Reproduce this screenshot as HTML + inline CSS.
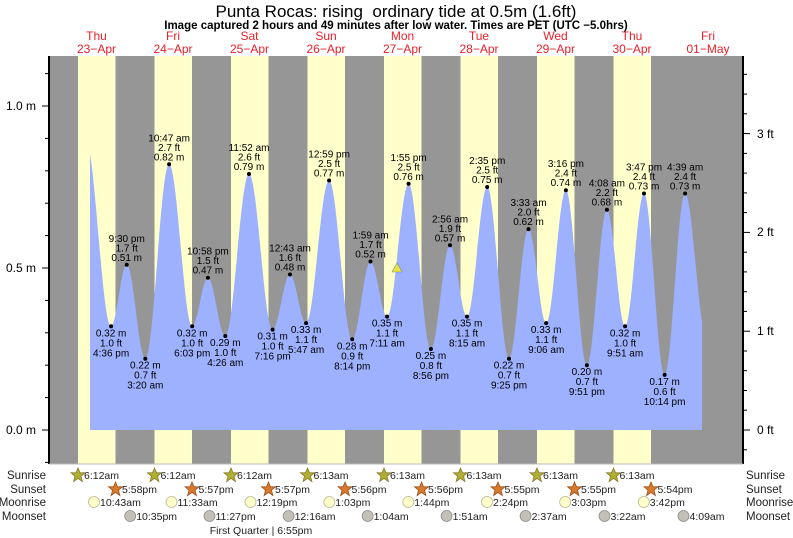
<!DOCTYPE html>
<html><head><meta charset="utf-8">
<style>
html,body{margin:0;padding:0;background:#fff;}
svg{display:block;font-family:"Liberation Sans",sans-serif;}
.lb text{font-size:10px;fill:#000;text-anchor:middle;}
.ax{font-size:12px;fill:#000;}
.rw{font-size:11.5px;fill:#222;}
.sm{font-size:10.5px;fill:#222;}
</style></head><body>
<svg width="793" height="538" viewBox="0 0 793 538" xmlns="http://www.w3.org/2000/svg">
<text x="396" y="17" font-size="17" text-anchor="middle" fill="#000">Punta Rocas: rising &#160;ordinary tide at 0.5m (1.6ft)</text>
<text x="396" y="29" font-size="11.5" font-weight="bold" text-anchor="middle" fill="#000">Image captured 2 hours and 49 minutes after low water. Times are PET (UTC −5.0hrs)</text>
<g font-size="12" fill="#e8202a" text-anchor="middle">
<text x="96.5" y="40">Thu</text><text x="96.5" y="53">23−Apr</text>
<text x="173" y="40">Fri</text><text x="173" y="53">24−Apr</text>
<text x="249.5" y="40">Sat</text><text x="249.5" y="53">25−Apr</text>
<text x="326" y="40">Sun</text><text x="326" y="53">26−Apr</text>
<text x="402.5" y="40">Mon</text><text x="402.5" y="53">27−Apr</text>
<text x="479" y="40">Tue</text><text x="479" y="53">28−Apr</text>
<text x="555.5" y="40">Wed</text><text x="555.5" y="53">29−Apr</text>
<text x="632" y="40">Thu</text><text x="632" y="53">30−Apr</text>
<text x="708" y="40">Fri</text><text x="708" y="53">01−May</text>
</g>
<rect x="49" y="56" width="694" height="408" fill="#969696"/>
<g fill="#ffffcc">
<rect x="78" y="56" width="37.5" height="408"/>
<rect x="154.5" y="56" width="37.5" height="408"/>
<rect x="231" y="56" width="37.5" height="408"/>
<rect x="307.5" y="56" width="37.5" height="408"/>
<rect x="384" y="56" width="37.5" height="408"/>
<rect x="460.5" y="56" width="37.5" height="408"/>
<rect x="537" y="56" width="37.5" height="408"/>
<rect x="613.5" y="56" width="37.5" height="408"/>
</g>
<defs><clipPath id="cp"><rect x="90" y="0" width="612" height="430"/></clipPath></defs>
<path fill="#9db1ff" clip-path="url(#cp)" d="M85.3,138.4 C94.6,138.4 101.8,326.3 111.1,326.3 C116.7,326.3 121.1,264.8 126.7,264.8 C133.4,264.8 138.6,358.7 145.3,358.7 C153.9,358.7 160.5,164.3 169.1,164.3 C177.4,164.3 183.9,326.3 192.2,326.3 C197.9,326.3 202.2,277.7 207.9,277.7 C214.2,277.7 219,336 225.3,336 C233.8,336 240.5,174 249,174 C257.5,174 264.1,329.6 272.6,329.6 C278.9,329.6 283.7,274.5 290,274.5 C295.8,274.5 300.3,323.1 306.1,323.1 C314.4,323.1 320.8,180.5 329.1,180.5 C337.4,180.5 343.9,339.3 352.2,339.3 C358.8,339.3 363.9,261.5 370.5,261.5 C376.5,261.5 381.1,316.6 387.1,316.6 C394.8,316.6 400.9,183.8 408.6,183.8 C416.6,183.8 422.9,349 430.9,349 C437.8,349 443.1,245.3 450,245.3 C456.1,245.3 460.9,316.6 467,316.6 C474.3,316.6 479.9,187 487.2,187 C495,187 501.2,358.7 509,358.7 C516,358.7 521.5,229.1 528.5,229.1 C534.9,229.1 539.8,323.1 546.2,323.1 C553.3,323.1 558.8,190.2 565.9,190.2 C573.5,190.2 579.3,365.2 586.9,365.2 C594.1,365.2 599.7,209.7 606.9,209.7 C613.5,209.7 618.5,326.3 625.1,326.3 C631.9,326.3 637.2,193.5 644,193.5 C651.4,193.5 657.2,374.9 664.6,374.9 C672,374.9 677.7,193.5 685.1,193.5 C692.6,193.5 698.4,332.8 705.9,332.8 L705.9,430 L85.3,430 Z"/>
<polygon points="392,272 402,272 397,263" fill="#e6e640" stroke="#888" stroke-width="0.6"/>
<line x1="49" y1="56" x2="49" y2="464" stroke="#000" stroke-width="2"/>
<line x1="743" y1="56" x2="743" y2="464" stroke="#000" stroke-width="2"/>
<line x1="49" y1="464" x2="743" y2="464" stroke="#bbb" stroke-width="1"/>
<g stroke="#000" stroke-width="1">
<line x1="42" y1="106" x2="49" y2="106"/><line x1="42" y1="268" x2="49" y2="268"/><line x1="42" y1="430" x2="49" y2="430"/>
<line x1="45" y1="73.6" x2="49" y2="73.6"/><line x1="45" y1="138.4" x2="49" y2="138.4"/><line x1="45" y1="170.8" x2="49" y2="170.8"/><line x1="45" y1="203.2" x2="49" y2="203.2"/><line x1="45" y1="235.6" x2="49" y2="235.6"/><line x1="45" y1="300.4" x2="49" y2="300.4"/><line x1="45" y1="332.8" x2="49" y2="332.8"/><line x1="45" y1="365.2" x2="49" y2="365.2"/><line x1="45" y1="397.6" x2="49" y2="397.6"/><line x1="45" y1="462.4" x2="49" y2="462.4"/>
<line x1="743" y1="430" x2="750" y2="430"/><line x1="743" y1="331.2" x2="750" y2="331.2"/><line x1="743" y1="232.4" x2="750" y2="232.4"/><line x1="743" y1="133.6" x2="750" y2="133.6"/>
<line x1="743" y1="449.8" x2="747" y2="449.8"/><line x1="743" y1="410.2" x2="747" y2="410.2"/><line x1="743" y1="390.5" x2="747" y2="390.5"/><line x1="743" y1="370.7" x2="747" y2="370.7"/><line x1="743" y1="351" x2="747" y2="351"/>
<line x1="743" y1="311.4" x2="747" y2="311.4"/><line x1="743" y1="291.7" x2="747" y2="291.7"/><line x1="743" y1="271.9" x2="747" y2="271.9"/><line x1="743" y1="252.2" x2="747" y2="252.2"/>
<line x1="743" y1="212.6" x2="747" y2="212.6"/><line x1="743" y1="192.9" x2="747" y2="192.9"/><line x1="743" y1="173.1" x2="747" y2="173.1"/><line x1="743" y1="153.4" x2="747" y2="153.4"/>
<line x1="743" y1="113.8" x2="747" y2="113.8"/><line x1="743" y1="94.1" x2="747" y2="94.1"/><line x1="743" y1="74.3" x2="747" y2="74.3"/>
</g>
<g class="ax">
<text x="6" y="110">1.0 m</text><text x="6" y="272">0.5 m</text><text x="6" y="434">0.0 m</text>
<text x="757" y="138">3 ft</text><text x="757" y="236">2 ft</text><text x="757" y="335">1 ft</text><text x="757" y="434">0 ft</text>
</g>
<g class="lb">
<g transform="translate(111.1,326.3)"><circle r="2"/><text y="10">0.32 m</text><text y="20">1.0 ft</text><text y="30">4:36 pm</text></g>
<g transform="translate(126.7,264.8)"><circle r="2"/><text y="-4">0.51 m</text><text y="-13.5">1.7 ft</text><text y="-23">9:30 pm</text></g>
<g transform="translate(145.3,358.7)"><circle r="2"/><text y="10">0.22 m</text><text y="20">0.7 ft</text><text y="30">3:20 am</text></g>
<g transform="translate(169.1,164.3)"><circle r="2"/><text y="-4">0.82 m</text><text y="-13.5">2.7 ft</text><text y="-23">10:47 am</text></g>
<g transform="translate(192.2,326.3)"><circle r="2"/><text y="10">0.32 m</text><text y="20">1.0 ft</text><text y="30">6:03 pm</text></g>
<g transform="translate(207.9,277.7)"><circle r="2"/><text y="-4">0.47 m</text><text y="-13.5">1.5 ft</text><text y="-23">10:58 pm</text></g>
<g transform="translate(225.3,336)"><circle r="2"/><text y="10">0.29 m</text><text y="20">1.0 ft</text><text y="30">4:26 am</text></g>
<g transform="translate(249,174)"><circle r="2"/><text y="-4">0.79 m</text><text y="-13.5">2.6 ft</text><text y="-23">11:52 am</text></g>
<g transform="translate(272.6,329.6)"><circle r="2"/><text y="10">0.31 m</text><text y="20">1.0 ft</text><text y="30">7:16 pm</text></g>
<g transform="translate(290,274.5)"><circle r="2"/><text y="-4">0.48 m</text><text y="-13.5">1.6 ft</text><text y="-23">12:43 am</text></g>
<g transform="translate(306.1,323.1)"><circle r="2"/><text y="10">0.33 m</text><text y="20">1.1 ft</text><text y="30">5:47 am</text></g>
<g transform="translate(329.1,180.5)"><circle r="2"/><text y="-4">0.77 m</text><text y="-13.5">2.5 ft</text><text y="-23">12:59 pm</text></g>
<g transform="translate(352.2,339.3)"><circle r="2"/><text y="10">0.28 m</text><text y="20">0.9 ft</text><text y="30">8:14 pm</text></g>
<g transform="translate(370.5,261.5)"><circle r="2"/><text y="-4">0.52 m</text><text y="-13.5">1.7 ft</text><text y="-23">1:59 am</text></g>
<g transform="translate(387.1,316.6)"><circle r="2"/><text y="10">0.35 m</text><text y="20">1.1 ft</text><text y="30">7:11 am</text></g>
<g transform="translate(408.6,183.8)"><circle r="2"/><text y="-4">0.76 m</text><text y="-13.5">2.5 ft</text><text y="-23">1:55 pm</text></g>
<g transform="translate(430.9,349)"><circle r="2"/><text y="10">0.25 m</text><text y="20">0.8 ft</text><text y="30">8:56 pm</text></g>
<g transform="translate(450,245.3)"><circle r="2"/><text y="-4">0.57 m</text><text y="-13.5">1.9 ft</text><text y="-23">2:56 am</text></g>
<g transform="translate(467,316.6)"><circle r="2"/><text y="10">0.35 m</text><text y="20">1.1 ft</text><text y="30">8:15 am</text></g>
<g transform="translate(487.2,187)"><circle r="2"/><text y="-4">0.75 m</text><text y="-13.5">2.5 ft</text><text y="-23">2:35 pm</text></g>
<g transform="translate(509,358.7)"><circle r="2"/><text y="10">0.22 m</text><text y="20">0.7 ft</text><text y="30">9:25 pm</text></g>
<g transform="translate(528.5,229.1)"><circle r="2"/><text y="-4">0.62 m</text><text y="-13.5">2.0 ft</text><text y="-23">3:33 am</text></g>
<g transform="translate(546.2,323.1)"><circle r="2"/><text y="10">0.33 m</text><text y="20">1.1 ft</text><text y="30">9:06 am</text></g>
<g transform="translate(565.9,190.2)"><circle r="2"/><text y="-4">0.74 m</text><text y="-13.5">2.4 ft</text><text y="-23">3:16 pm</text></g>
<g transform="translate(586.9,365.2)"><circle r="2"/><text y="10">0.20 m</text><text y="20">0.7 ft</text><text y="30">9:51 pm</text></g>
<g transform="translate(606.9,209.7)"><circle r="2"/><text y="-4">0.68 m</text><text y="-13.5">2.2 ft</text><text y="-23">4:08 am</text></g>
<g transform="translate(625.1,326.3)"><circle r="2"/><text y="10">0.32 m</text><text y="20">1.0 ft</text><text y="30">9:51 am</text></g>
<g transform="translate(644,193.5)"><circle r="2"/><text y="-4">0.73 m</text><text y="-13.5">2.4 ft</text><text y="-23">3:47 pm</text></g>
<g transform="translate(664.6,374.9)"><circle r="2"/><text y="10">0.17 m</text><text y="20">0.6 ft</text><text y="30">10:14 pm</text></g>
<g transform="translate(685.1,193.5)"><circle r="2"/><text y="-4">0.73 m</text><text y="-13.5">2.4 ft</text><text y="-23">4:39 am</text></g>
</g>
<g class="rw" text-anchor="end">
<text x="46" y="479">Sunrise</text><text x="46" y="493">Sunset</text><text x="46" y="506">Moonrise</text><text x="46" y="520">Moonset</text>
</g>
<g class="rw">
<text x="746" y="479">Sunrise</text><text x="746" y="493">Sunset</text><text x="746" y="506">Moonrise</text><text x="746" y="520">Moonset</text>
</g>
<defs>
<polygon id="star" points="0,-7 2,-2.2 7,-2.2 3,1.2 4.4,6.5 0,3.4 -4.4,6.5 -3,1.2 -7,-2.2 -2,-2.2"/>
</defs>
<g fill="#b0b030" stroke="#8a7a30" stroke-width="0.8">
<use href="#star" x="78" y="475"/><use href="#star" x="154.5" y="475"/><use href="#star" x="231" y="475"/><use href="#star" x="307.5" y="475"/><use href="#star" x="384" y="475"/><use href="#star" x="460.5" y="475"/><use href="#star" x="537" y="475"/><use href="#star" x="613.5" y="475"/>
</g>
<g fill="#d87a2a" stroke="#a05020" stroke-width="0.8">
<use href="#star" x="115.5" y="489"/><use href="#star" x="192" y="489"/><use href="#star" x="268.5" y="489"/><use href="#star" x="345" y="489"/><use href="#star" x="421.5" y="489"/><use href="#star" x="498" y="489"/><use href="#star" x="574.5" y="489"/><use href="#star" x="651" y="489"/>
</g>
<g class="sm">
<text x="84" y="479">6:12am</text><text x="160.5" y="479">6:12am</text><text x="237" y="479">6:12am</text><text x="313.5" y="479">6:13am</text><text x="390" y="479">6:13am</text><text x="466.5" y="479">6:13am</text><text x="543" y="479">6:13am</text><text x="619.5" y="479">6:13am</text>
<text x="122" y="493">5:58pm</text><text x="198.5" y="493">5:57pm</text><text x="275" y="493">5:57pm</text><text x="351.5" y="493">5:56pm</text><text x="428" y="493">5:56pm</text><text x="504.5" y="493">5:55pm</text><text x="581" y="493">5:55pm</text><text x="657.5" y="493">5:54pm</text>
</g>
<g fill="#ffffcc" stroke="#b8b890" stroke-width="0.8">
<circle cx="94" cy="502" r="5.5"/><circle cx="171.5" cy="502" r="5.5"/><circle cx="250.5" cy="502" r="5.5"/><circle cx="329.3" cy="502" r="5.5"/><circle cx="408.3" cy="502" r="5.5"/><circle cx="487" cy="502" r="5.5"/><circle cx="565.2" cy="502" r="5.5"/><circle cx="643.8" cy="502" r="5.5"/>
</g>
<g fill="#c4c0b8" stroke="#908c84" stroke-width="0.8">
<circle cx="130.2" cy="516" r="5.5"/><circle cx="209.5" cy="516" r="5.5"/><circle cx="288.6" cy="516" r="5.5"/><circle cx="367.6" cy="516" r="5.5"/><circle cx="446.6" cy="516" r="5.5"/><circle cx="525.6" cy="516" r="5.5"/><circle cx="604.5" cy="516" r="5.5"/><circle cx="683.5" cy="516" r="5.5"/>
</g>
<g class="sm">
<text x="100" y="506">10:43am</text><text x="177.5" y="506">11:33am</text><text x="256.5" y="506">12:19pm</text><text x="335.3" y="506">1:03pm</text><text x="414.3" y="506">1:44pm</text><text x="493" y="506">2:24pm</text><text x="571.2" y="506">3:03pm</text><text x="649.8" y="506">3:42pm</text>
<text x="136.2" y="520">10:35pm</text><text x="215.5" y="520">11:27pm</text><text x="294.6" y="520">12:16am</text><text x="373.6" y="520">1:04am</text><text x="452.6" y="520">1:51am</text><text x="531.6" y="520">2:37am</text><text x="610.5" y="520">3:22am</text><text x="689.5" y="520">4:09am</text>
<text x="261" y="534" text-anchor="middle">First Quarter | 6:55pm</text>
</g>
</svg>
</body></html>
